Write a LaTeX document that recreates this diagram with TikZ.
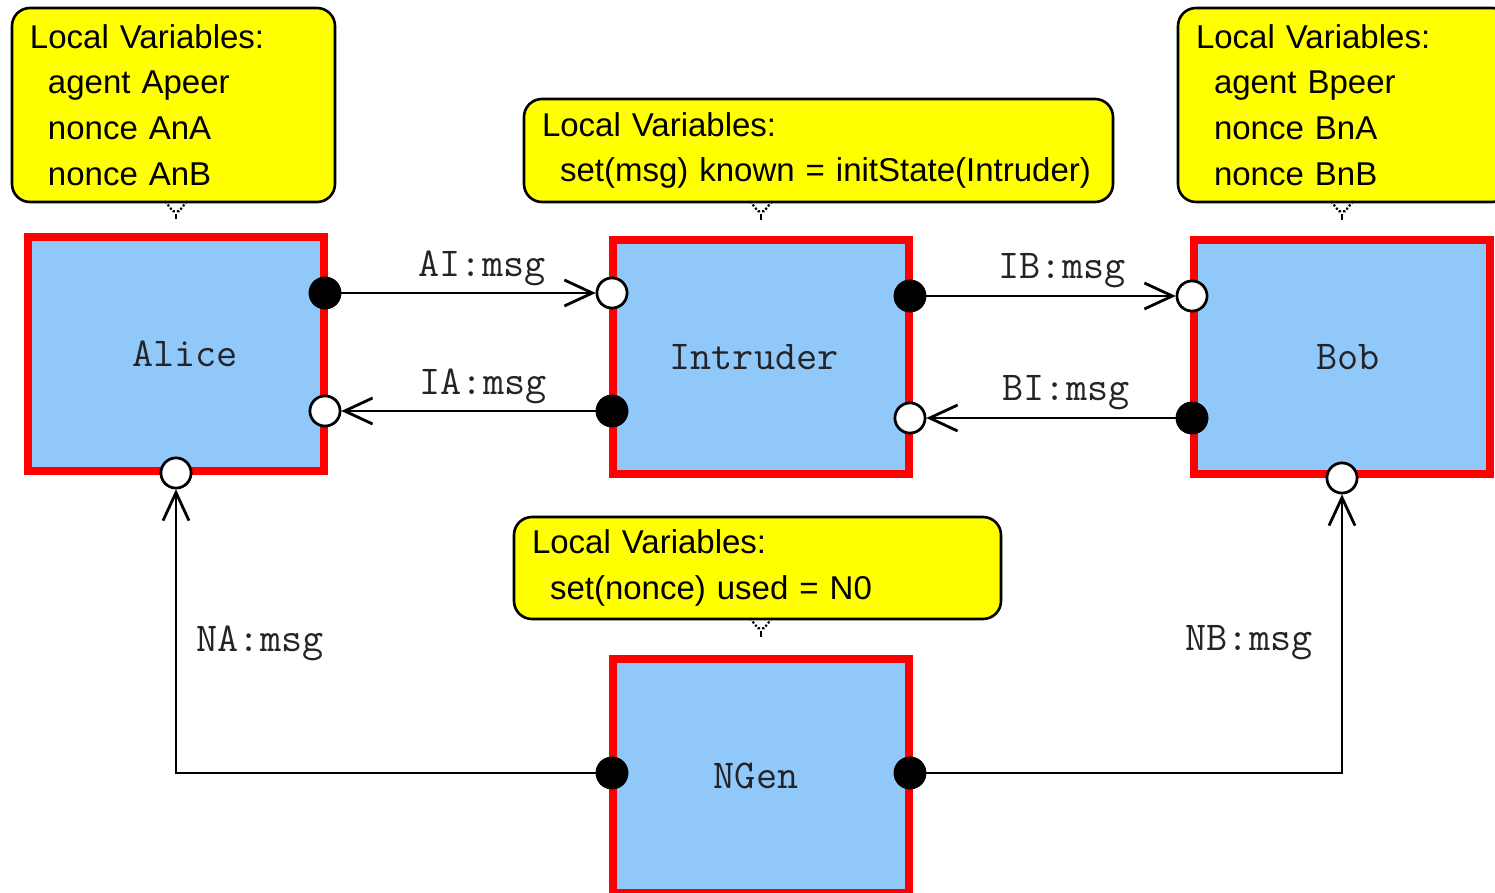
\documentclass[tikz,border=0pt]{standalone}
\usepackage{fontspec}
\setmainfont{Liberation Sans}
\usetikzlibrary{arrows.meta,calc}

\definecolor{boxblue}{RGB}{144,200,250}
\definecolor{noteyellow}{RGB}{255,255,0}
\definecolor{labelgray}{RGB}{35,35,40}

\tikzset{
  block/.style={draw=red, fill=boxblue, line width=4pt, rectangle,
    minimum width=148pt, minimum height=117pt, inner sep=0pt,
    font=\ttfamily\fontsize{20.5}{24}\selectfont, text=labelgray},
  note/.style={draw=black, fill=noteyellow, line width=1.3pt, rectangle,
    rounded corners=9pt, align=left, inner xsep=9pt, inner ysep=0pt,
    font=\fontsize{16.5}{22.85}\selectfont},
  portin/.style={circle, draw=black, fill=white, line width=1.3pt,
    minimum size=15pt, inner sep=0pt},
  portout/.style={circle, draw=black, fill=black, line width=1.3pt,
    minimum size=15pt, inner sep=0pt},
  flow/.style={draw=black, line width=1.4pt,
    -{Straight Barb[length=14pt, width=13pt, line width=1.4pt]}},
  chan/.style={font=\ttfamily\fontsize{20.5}{24}\selectfont, text=labelgray,
    inner sep=0pt},
  pointer/.style={draw=black, line width=1.3pt, dash pattern=on 3pt off 4pt},
}

\begin{document}
\begin{tikzpicture}[x=0.5pt, y=-0.5pt]
\useasboundingbox (0,0) rectangle (1495,893);
\clip (0,0) rectangle (1495,893);

% components
\node[block] (alice) at (176,354) {\hspace*{9pt}Alice};
\node[block] (intr)  at (761,357) {Intruder\hspace*{7pt}};
\node[block] (bob)   at (1342,357) {\hspace*{6pt}Bob};
\node[block] (ngen)  at (761,776) {NGen\hspace*{5pt}};

% local variable notes
\node[note, minimum width=161.5pt, minimum height=97pt, text width=143.5pt]
  (nalice) at (173.5,105)
  {Local Variables:\\\hspace*{9pt}agent Apeer\\\hspace*{9pt}nonce AnA\\\hspace*{9pt}nonce AnB};
\node[note, minimum width=294.5pt, minimum height=51.5pt, text width=276.5pt]
  (nintr) at (818.5,150.5)
  {Local Variables:\\\hspace*{9pt}set(msg) known = initState(Intruder)};
\node[note, minimum width=166pt, minimum height=97pt, text width=148pt]
  (nbob) at (1344,105)
  {Local Variables:\\\hspace*{9pt}agent Bpeer\\\hspace*{9pt}nonce BnA\\\hspace*{9pt}nonce BnB};
\node[note, minimum width=243.5pt, minimum height=51pt, text width=225.5pt]
  (nngen) at (757.5,568)
  {Local Variables:\\\hspace*{9pt}set(nonce) used = N0};

% note pointers, dropped straight down onto each component
\foreach \n/\b in {nalice/alice, nintr/intr, nbob/bob, nngen/ngen}{
  \coordinate (tip) at (\b.north |- \n.south);
  \draw[line width=1.1pt, densely dotted] ($(tip)+(-11,-2)$) -- ($(tip)+(-3,8)$) -- ($(tip)+(3,8)$) -- ($(tip)+(11,-2)$);
  \draw[pointer] ($(tip)+(0,11)$) -- ($(\b.north)+(0,-14)$);
}

% ports
\node[portout] (aOut) at (325,293) {};
\node[portin]  (aIn)  at (325,411) {};
\node[portin]  (aN)   at (176,473) {};
\node[portin]  (iInA) at (612,293) {};
\node[portout] (iOutA) at (612,411) {};
\node[portout] (iOutB) at (910,296) {};
\node[portin]  (iInB) at (910,418) {};
\node[portin]  (bIn)  at (1192,296) {};
\node[portout] (bOut) at (1192,418) {};
\node[portin]  (bN)   at (1342,478) {};
\node[portout] (nA)   at (612,773) {};
\node[portout] (nB)   at (910,773) {};

% channels
\draw[flow] (aOut) -- (iInA);
\draw[flow] (iOutA) -- (aIn);
\draw[flow] (iOutB) -- (bIn);
\draw[flow] (bOut) -- (iInB);
\draw[flow] (nA) -| (aN);
\draw[flow] (nB) -| (bN);

% channel labels
\node[chan] (lAI) at (482,268) {AI:msg};
\node[chan] (lIA) at (483,386) {IA:msg};
\node[chan] (lIB) at (1062,271) {IB:msg};
\node[chan] (lBI) at (1066,393) {BI:msg};
\node[chan] (lNA) at (260,643) {NA:msg};
\node[chan] (lNB) at (1249,643) {NB:msg};

% redraw ports on top of the channel lines
\foreach \p/\s in {aOut/portout, aIn/portin, aN/portin, iInA/portin, iOutA/portout,
                   iOutB/portout, iInB/portin, bIn/portin, bOut/portout, bN/portin,
                   nA/portout, nB/portout}{
  \node[\s] at (\p) {};
}
\end{tikzpicture}
\end{document}
